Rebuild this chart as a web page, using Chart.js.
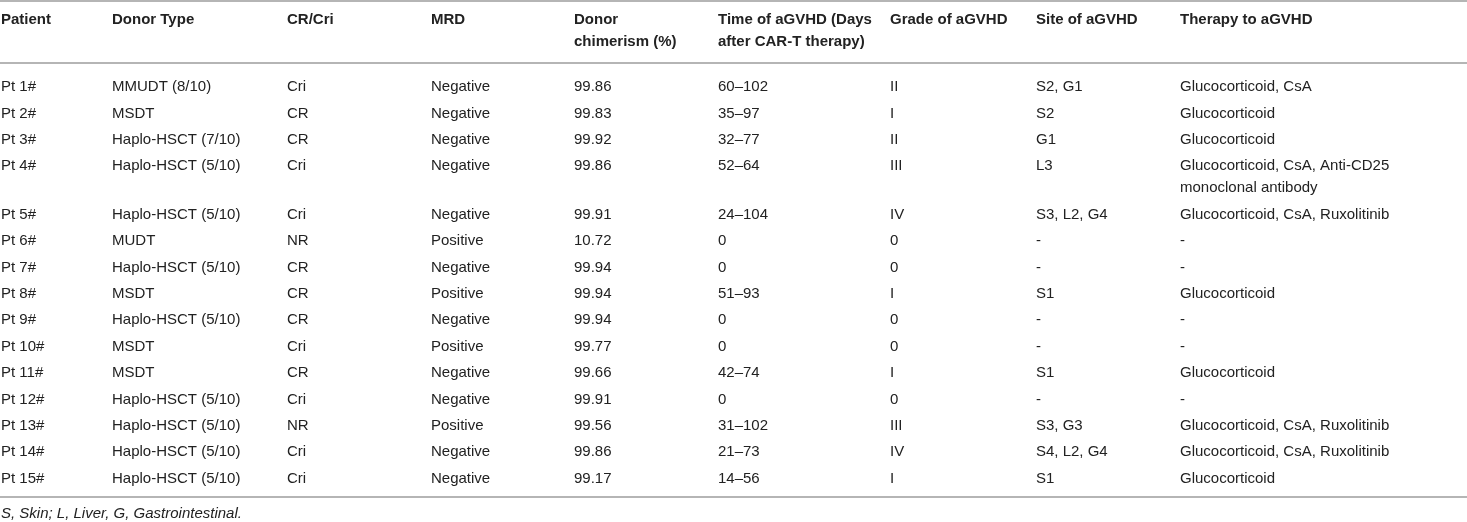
<!DOCTYPE html>
<html lang="en">
<head>
    <meta charset="UTF-8">
    <title>aGVHD table</title>
    <style>
        body {
            margin: 0;
            background: #fff;
        }
        #chart-container {
            width: 1467px;
            height: 522px;
            position: relative;
        }
    </style>
    <script src="https://cdn.jsdelivr.net/npm/chart.js"></script>
</head>
<body>
    <div id="chart-container">
        <canvas id="table"></canvas>
    </div>
    <script>
        // table content, one array per column
        const headers = [
            ['Patient'],
            ['Donor Type'],
            ['CR/Cri'],
            ['MRD'],
            ['Donor', 'chimerism (%)'],
            ['Time of aGVHD (Days', 'after CAR-T therapy)'],
            ['Grade of aGVHD'],
            ['Site of aGVHD'],
            ['Therapy to aGVHD']
        ];
        const patients = ['Pt 1#', 'Pt 2#', 'Pt 3#', 'Pt 4#', 'Pt 5#', 'Pt 6#', 'Pt 7#', 'Pt 8#',
            'Pt 9#', 'Pt 10#', 'Pt 11#', 'Pt 12#', 'Pt 13#', 'Pt 14#', 'Pt 15#'];
        const donorTypes = ['MMUDT (8/10)', 'MSDT', 'Haplo-HSCT (7/10)', 'Haplo-HSCT (5/10)', 'Haplo-HSCT (5/10)',
            'MUDT', 'Haplo-HSCT (5/10)', 'MSDT', 'Haplo-HSCT (5/10)', 'MSDT', 'MSDT', 'Haplo-HSCT (5/10)',
            'Haplo-HSCT (5/10)', 'Haplo-HSCT (5/10)', 'Haplo-HSCT (5/10)'];
        const responses = ['Cri', 'CR', 'CR', 'Cri', 'Cri', 'NR', 'CR', 'CR', 'CR', 'Cri', 'CR', 'Cri', 'NR', 'Cri', 'Cri'];
        const mrd = ['Negative', 'Negative', 'Negative', 'Negative', 'Negative', 'Positive', 'Negative', 'Positive',
            'Negative', 'Positive', 'Negative', 'Negative', 'Positive', 'Negative', 'Negative'];
        const chimerism = [99.86, 99.83, 99.92, 99.86, 99.91, 10.72, 99.94, 99.94, 99.94, 99.77, 99.66, 99.91, 99.56, 99.86, 99.17];
        const aGVHDTime = ['60–102', '35–97', '32–77', '52–64', '24–104', '0', '0', '51–93', '0', '0', '42–74', '0',
            '31–102', '21–73', '14–56'];
        const grades = ['II', 'I', 'II', 'III', 'IV', '0', '0', 'I', '0', '0', 'I', '0', 'III', 'IV', 'I'];
        const sites = ['S2, G1', 'S2', 'G1', 'L3', 'S3, L2, G4', '-', '-', 'S1', '-', '-', 'S1', '-', 'S3, G3', 'S4, L2, G4', 'S1'];
        const therapies = [
            ['Glucocorticoid, CsA'],
            ['Glucocorticoid'],
            ['Glucocorticoid'],
            ['Glucocorticoid, CsA, Anti-CD25', 'monoclonal antibody'],
            ['Glucocorticoid, CsA, Ruxolitinib'],
            ['-'], ['-'],
            ['Glucocorticoid'],
            ['-'], ['-'],
            ['Glucocorticoid'],
            ['-'],
            ['Glucocorticoid, CsA, Ruxolitinib'],
            ['Glucocorticoid, CsA, Ruxolitinib'],
            ['Glucocorticoid']
        ];
        const footnote = 'S, Skin; L, Liver, G, Gastrointestinal.';

        // layout (px on the x axis, row units on the y axis)
        const colStarts = [1, 112, 287, 431, 574, 718, 890, 1036, 1180];
        const wrapStep = 0.833;     // second text line inside a cell
        const headerY = -2.54;
        const ruleTopY = -3.26, ruleHeadY = -0.91, ruleBottomY = 15.53, footY = 16.17;
        const textColor = '#222';
        const ruleColor = '#b5b5b5';
        const fontFamily = "'Liberation Sans', Arial, sans-serif";

        const lines = s => Array.isArray(s) ? s : [String(s)];
        const columns = [
            patients, donorTypes, responses, mrd,
            chimerism.map(v => v.toFixed(2)),
            aGVHDTime, grades, sites, therapies
        ].map(col => col.map(lines));

        // y value of each row, rows with wrapped text push the next ones down
        const rowY = [];
        let y = 0;
        for (let r = 0; r < patients.length; r++) {
            rowY.push(y);
            const extra = Math.max(...columns.map(c => c[r].length)) - 1;
            y += 1 + extra * wrapStep;
        }

        const datasets = columns.map((col, c) => ({
            label: headers[c].join(' '),
            data: col.map((cell, r) => ({ x: colStarts[c], y: rowY[r], text: cell })),
            pointRadius: 0,
            showLine: false
        }));

        const tablePlugin = {
            id: 'tableText',
            afterDatasetsDraw(chart) {
                const { ctx, scales: { x, y } } = chart;
                ctx.save();

                // rules
                ctx.strokeStyle = ruleColor;
                ctx.lineWidth = 2;
                [ruleTopY, ruleHeadY, ruleBottomY].forEach(v => {
                    const py = Math.round(y.getPixelForValue(v));
                    ctx.beginPath();
                    ctx.moveTo(x.left, py);
                    ctx.lineTo(x.right, py);
                    ctx.stroke();
                });

                ctx.fillStyle = textColor;
                ctx.textAlign = 'left';
                ctx.textBaseline = 'middle';

                // header
                ctx.font = 'bold 15px ' + fontFamily;
                headers.forEach((h, c) => {
                    h.forEach((t, k) => {
                        ctx.fillText(t, x.getPixelForValue(colStarts[c]), y.getPixelForValue(headerY + k * wrapStep));
                    });
                });

                // body cells
                ctx.font = '15px ' + fontFamily;
                chart.data.datasets.forEach(ds => {
                    ds.data.forEach(p => {
                        p.text.forEach((t, k) => {
                            ctx.fillText(t, x.getPixelForValue(p.x), y.getPixelForValue(p.y + k * wrapStep));
                        });
                    });
                });

                // footnote
                ctx.font = 'italic 15px ' + fontFamily;
                ctx.fillText(footnote, x.getPixelForValue(colStarts[0]), y.getPixelForValue(footY));
                ctx.restore();
            }
        };

        window.onload = function() {
            const ctx = document.getElementById('table').getContext('2d');
            new Chart(ctx, {
                type: 'scatter',
                data: { datasets: datasets },
                options: {
                    responsive: true,
                    maintainAspectRatio: false,
                    animation: false,
                    events: [],
                    layout: { padding: 0 },
                    scales: {
                        x: { type: 'linear', min: 0, max: 1467, display: false },
                        y: { type: 'linear', min: -3.295, max: 16.477, reverse: true, display: false }
                    },
                    plugins: {
                        legend: { display: false },
                        tooltip: { enabled: false }
                    }
                },
                plugins: [tablePlugin]
            });
        };
    </script>
</body>
</html>
